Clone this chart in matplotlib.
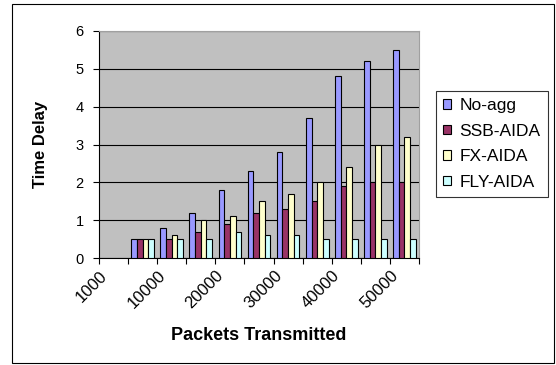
import matplotlib.pyplot as plt
from matplotlib.patches import Rectangle
import numpy as np

plt.rcParams['font.family'] = ['Liberation Sans', 'DejaVu Sans']

packets = ["1000", "5000", "10000", "15000", "20000", "25000",
           "30000", "35000", "40000", "45000", "50000"]
no_agg = [0, 0.5, 0.8, 1.2, 1.8, 2.3, 2.8, 3.7, 4.8, 5.2, 5.5]
ssb_aida = [0, 0.5, 0.5, 0.7, 0.9, 1.2, 1.3, 1.5, 1.9, 2.0, 2.0]
fx_aida = [0, 0.5, 0.6, 1.0, 1.1, 1.5, 1.7, 2.0, 2.4, 3.0, 3.2]
fly_aida = [0, 0.5, 0.5, 0.5, 0.7, 0.6, 0.6, 0.5, 0.5, 0.5, 0.5]

series = [("No-agg", no_agg, "#9999FF"),
          ("SSB-AIDA", ssb_aida, "#993366"),
          ("FX-AIDA", fx_aida, "#FFFFCC"),
          ("FLY-AIDA", fly_aida, "#CCFFFF")]

fig = plt.figure(figsize=(5.56, 3.65), dpi=100)
ax = fig.add_axes([99/556, 1-258/365, 320/556, 227/365])

x = np.arange(len(packets))
w = 0.195
for i, (name, vals, col) in enumerate(series):
    vals = np.array(vals, dtype=float)
    mask = vals > 0
    ax.bar(x[mask] + (i - 1.5)*w, vals[mask], w, color=col,
           edgecolor="black", linewidth=0.8, label=name, zorder=3)

ax.set_facecolor("#C0C0C0")
ax.set_xlim(-0.5, len(packets) - 0.5)
ax.set_ylim(0, 6)
ax.set_yticks(range(7))
ax.yaxis.grid(True, color="black", linewidth=0.8, zorder=1)
ax.set_axisbelow(True)
for s in ["top", "right"]:
    ax.spines[s].set_color("#A0A0A0")
    ax.spines[s].set_linewidth(0.8)
ax.spines["left"].set_linewidth(0.8)
ax.spines["bottom"].set_linewidth(0.8)

# category boundaries get the tick marks, labels sit on every other category
ax.set_xticks(np.arange(-0.5, len(packets), 1))
ax.set_xticklabels([])
ax.tick_params(axis="x", which="major", length=4, width=0.8, direction="out")
ax.set_xticks(x[::2] - 0.3, minor=True)
ax.set_xticklabels(packets[::2], minor=True, rotation=45, ha="right",
                   va="center", rotation_mode="anchor", fontsize=12)
ax.tick_params(axis="x", which="minor", length=0, pad=11)
ax.tick_params(axis="y", length=4, width=0.8, labelsize=10.5, pad=7)

ax.set_xlabel("Packets Transmitted", fontsize=13, fontweight="bold")
ax.xaxis.set_label_coords(0.5, -0.305)
ax.set_ylabel("Time Delay", fontsize=12, fontweight="bold")
ax.yaxis.set_label_coords(-0.16, 0.5)

leg = ax.legend(loc="upper left", bbox_to_anchor=(436/556, 1-91/365),
                bbox_transform=fig.transFigure, fontsize=12.5, frameon=True,
                fancybox=False, edgecolor="black", handlelength=0.46,
                handleheight=0.46, handletextpad=0.46, borderpad=0.42,
                labelspacing=0.6, borderaxespad=0)
leg.get_frame().set_linewidth(0.8)

fig.patches.append(Rectangle((12/556, 1-363/365), 542/556, 359/365,
                             transform=fig.transFigure, fill=False,
                             edgecolor="black", linewidth=0.8))

fig.savefig("out.png", dpi=100)
